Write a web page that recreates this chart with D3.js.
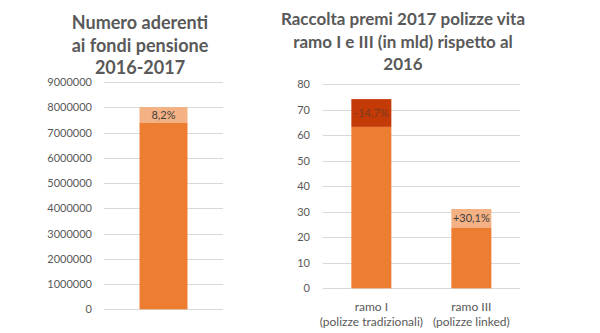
<!DOCTYPE html>
<html>
<head>
<meta charset="utf-8">
<script src="https://cdn.jsdelivr.net/npm/d3@7"></script>
<style>
  body { margin: 0; background: #fff; }
  svg { display: block; font-family: Lato, "Open Sans", sans-serif; }
</style>
</head>
<body>
<div id="chart"></div>
<script>
// aderenti ai fondi pensione
const fondiCategories = ["2016-2017"];
const fondiBase = [7400000];
const fondiDelta = [607000];
const fondiLabels = ["8,2%"];
const fondiTicks = [0, 1000000, 2000000, 3000000, 4000000, 5000000, 6000000, 7000000, 8000000, 9000000];

// raccolta premi ramo I / ramo III (mld)
const ramoCategories = ["ramo I", "ramo III"];
const ramoSub = ["(polizze tradizionali)", "(polizze linked)"];
const ramoBase = [63.3, 23.9];
const ramoDelta = [10.9, 7.2];
const ramoLabels = ["-14,7%", "+30,1%"];
const ramoTicks = [0, 10, 20, 30, 40, 50, 60, 70, 80];

const width = 600;
const height = 333;
const orange = "#ED7D31";
const light = "#F4B183";
const dark = "#C43B08";
const grey = "#595959";

const svg = d3.select("#chart")
  .append("svg")
  .attr("width", width)
  .attr("height", height);

function title(lines, cx, y0, size) {
  const t = svg.append("text")
    .attr("text-anchor", "middle")
    .attr("font-weight", "bold")
    .attr("font-size", size)
    .attr("fill", grey);
  lines.forEach((l, i) => {
    t.append("tspan").attr("x", cx).attr("y", y0 + i * 22.7).text(l);
  });
}

function drawChart(opts) {
  const y = d3.scaleLinear().domain(opts.domain).range(opts.yRange);
  const x = d3.scaleBand()
    .domain(opts.categories)
    .range(opts.xRange)
    .paddingInner(opts.padInner)
    .paddingOuter(opts.padOuter);

  const g = svg.append("g");

  // gridlines
  g.append("g")
    .selectAll("line")
    .data(opts.ticks)
    .enter()
    .append("line")
    .attr("x1", opts.xRange[0])
    .attr("x2", opts.xRange[1])
    .attr("y1", d => Math.round(y(d)) + 0.5)
    .attr("y2", d => Math.round(y(d)) + 0.5)
    .attr("stroke", "#D9D9D9")
    .attr("stroke-width", 1);

  // y axis labels
  const axis = d3.axisLeft(y).tickValues(opts.ticks).tickSize(0).tickPadding(0)
    .tickFormat(d3.format("d"));
  g.append("g")
    .attr("transform", `translate(${opts.labelRight},0)`)
    .call(axis)
    .call(s => s.select(".domain").remove())
    .call(s => s.selectAll("text")
      .attr("fill", grey)
      .attr("font-size", 11)
      .attr("font-family", "Lato, sans-serif"));

  // base segment
  g.append("g")
    .selectAll("rect")
    .data(opts.categories)
    .enter()
    .append("rect")
    .attr("x", d => x(d))
    .attr("width", x.bandwidth())
    .attr("y", (d, i) => y(opts.base[i]))
    .attr("height", (d, i) => y(0) - y(opts.base[i]))
    .attr("fill", orange);

  // change segment
  g.append("g")
    .selectAll("rect")
    .data(opts.categories)
    .enter()
    .append("rect")
    .attr("x", d => x(d))
    .attr("width", x.bandwidth())
    .attr("y", (d, i) => y(opts.base[i] + opts.delta[i]))
    .attr("height", (d, i) => y(opts.base[i]) - y(opts.base[i] + opts.delta[i]))
    .attr("fill", (d, i) => opts.deltaColors[i]);

  g.append("g")
    .selectAll("text")
    .data(opts.categories)
    .enter()
    .append("text")
    .attr("x", d => x(d) + x.bandwidth() / 2)
    .attr("y", (d, i) => (y(opts.base[i]) + y(opts.base[i] + opts.delta[i])) / 2)
    .attr("dy", "0.35em")
    .attr("text-anchor", "middle")
    .attr("font-size", 11)
    .attr("fill", (d, i) => opts.labelColors[i])
    .text((d, i) => opts.labels[i]);

  if (opts.sub) {
    const cat = g.append("g")
      .selectAll("text")
      .data(opts.categories)
      .enter()
      .append("text")
      .attr("text-anchor", "middle")
      .attr("font-size", 12)
      .attr("fill", grey);
    cat.append("tspan")
      .attr("x", d => x(d) + x.bandwidth() / 2)
      .attr("y", 311)
      .text(d => d);
    cat.append("tspan")
      .attr("x", d => x(d) + x.bandwidth() / 2)
      .attr("y", 326)
      .text((d, i) => opts.sub[i]);
  }
}

title(["Numero aderenti", "ai fondi pensione", "2016-2017"], 140, 29, 18);
title(["Raccolta premi 2017 polizze vita", "ramo I e III (in mld) rispetto al", "2016"], 403, 25, 17);

drawChart({
  categories: fondiCategories,
  base: fondiBase,
  delta: fondiDelta,
  labels: fondiLabels,
  ticks: fondiTicks,
  deltaColors: [light],
  labelColors: ["#404040"],
  domain: [0, 9000000],
  yRange: [309.3, 82],
  xRange: [104, 223],
  padInner: 0,
  padOuter: 0.74,
  labelRight: 92
});

drawChart({
  categories: ramoCategories,
  base: ramoBase,
  delta: ramoDelta,
  labels: ramoLabels,
  ticks: ramoTicks,
  sub: ramoSub,
  deltaColors: [dark, light],
  labelColors: ["#7a3a20", "#404040"],
  domain: [0, 80],
  yRange: [288.3, 84.3],
  xRange: [322.7, 520],
  padInner: 0.6,
  padOuter: 0.2865,
  labelRight: 310
});
</script>
</body>
</html>
